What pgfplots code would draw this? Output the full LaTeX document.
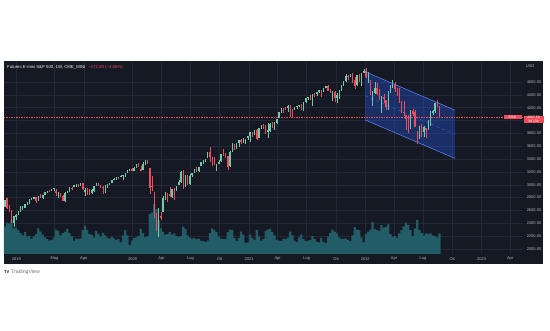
\documentclass[border=0pt]{standalone}
\usepackage{pgfplots}
\pgfplotsset{compat=1.18}
\usepackage{pgfplotstable}
\usepackage{fontspec}
\setmainfont{Liberation Sans}
\definecolor{bg}{RGB}{21,25,36}
\definecolor{gridc}{RGB}{36,40,54}
\definecolor{upc}{RGB}{112,202,168}
\definecolor{dnc}{RGB}{240,76,90}
\definecolor{volc}{RGB}{34,92,102}
\definecolor{txt}{RGB}{178,181,190}
\definecolor{chan}{RGB}{41,98,255}
\pgfplotstableread{
w o h l c v
-5 2650 2760 2647 2760 8.5
-4 2790 2800 2621 2633 9.8
-3 2630 2685 2583 2600 9.5
-2 2590 2601 2409 2417 10.5
-1 2400 2520 2346 2507 8.0
0 2498 2538 2444 2532 8.2
1 2535 2597 2524 2596 7.5
2 2585 2675 2580 2671 6.5
3 2657 2672 2612 2665 5.8
4 2644 2708 2631 2707 6.8
5 2706 2738 2684 2708 5.5
6 2712 2775 2700 2775 5.6
7 2769 2795 2767 2793 4.8
8 2796 2814 2775 2804 5.5
9 2803 2804 2722 2743 6.2
10 2747 2830 2740 2822 8.0
11 2823 2860 2800 2800 7.0
12 2796 2836 2786 2834 6.0
13 2848 2895 2848 2893 5.2
14 2889 2910 2873 2907 4.6
15 2909 2917 2891 2905 4.2
16 2898 2940 2898 2940 4.4
17 2940 2954 2900 2946 5.2
18 2908 2939 2825 2881 7.6
19 2841 2892 2801 2860 7.2
20 2841 2876 2805 2826 5.8
21 2830 2841 2750 2752 6.5
22 2752 2884 2728 2873 7.0
23 2885 2910 2880 2887 7.8
24 2889 2964 2887 2950 6.5
25 2951 2964 2913 2942 5.6
26 2971 2996 2965 2990 4.2
27 2980 3014 2963 3014 4.8
28 3012 3017 2966 2977 4.6
29 2986 3028 2979 3026 4.9
30 3024 3029 2914 2932 7.4
31 2898 2944 2822 2919 8.8
32 2907 2943 2840 2889 7.4
33 2913 2940 2834 2847 6.2
34 2866 2940 2853 2926 6.0
35 2910 2985 2891 2979 5.2
36 2988 3021 2985 3007 7.2
37 3002 3022 2990 2992 6.3
38 2986 3000 2945 2961 5.4
39 2967 2983 2855 2952 6.6
40 2944 2993 2874 2970 5.8
41 2965 3008 2952 2986 5.0
42 2996 3027 2992 3023 4.8
43 3035 3067 3023 3067 5.3
44 3078 3098 3070 3093 4.9
45 3089 3121 3078 3120 4.4
46 3118 3127 3091 3110 4.6
47 3117 3154 3114 3141 3.6
48 3144 3146 3070 3146 5.8
49 3141 3183 3123 3169 7.4
50 3183 3226 3180 3221 5.8
51 3226 3247 3222 3240 2.8
52 3240 3260 3212 3235 4.2
53 3218 3282 3211 3265 5.0
54 3271 3329 3264 3329 5.2
55 3325 3338 3280 3295 5.6
56 3248 3285 3214 3225 7.8
57 3235 3347 3235 3327 6.5
58 3318 3385 3315 3380 5.2
59 3369 3393 3328 3337 5.5
60 3257 3260 2855 2954 12.5
61 2974 3136 2901 2972 13.0
62 2863 2882 2479 2711 15.5
63 2508 2562 2280 2305 14.0
64 2290 2637 2192 2541 10.5
65 2514 2576 2447 2489 8.0
66 2578 2818 2578 2790 7.0
67 2782 2880 2761 2875 6.0
68 2845 2868 2727 2837 6.2
69 2854 2964 2812 2831 6.8
70 2815 2934 2797 2930 6.0
71 2938 2945 2766 2864 6.4
72 2913 2980 2909 2955 5.6
73 3004 3069 2999 3044 5.4
74 3038 3211 3032 3194 5.6
75 3199 3233 2936 3041 8.5
76 2994 3155 2965 3098 7.8
77 3094 3155 3004 3009 5.8
78 3018 3165 3001 3130 5.2
79 3155 3186 3128 3185 4.8
80 3205 3238 3182 3225 5.0
81 3224 3280 3200 3216 4.6
82 3219 3272 3200 3271 4.8
83 3289 3352 3285 3351 4.2
84 3356 3387 3323 3373 4.0
85 3380 3399 3356 3397 3.8
86 3419 3509 3410 3508 4.2
87 3507 3588 3349 3426 6.5
88 3371 3425 3293 3340 8.0
89 3363 3428 3313 3319 7.5
90 3285 3320 3209 3298 6.8
91 3334 3393 3323 3348 5.5
92 3367 3482 3354 3477 4.8
93 3500 3550 3441 3484 4.6
94 3493 3502 3419 3465 4.7
95 3441 3441 3233 3270 6.8
96 3296 3529 3280 3509 7.6
97 3583 3646 3511 3585 7.4
98 3600 3628 3543 3558 5.0
99 3566 3644 3560 3638 4.0
100 3654 3699 3594 3699 5.0
101 3694 3712 3633 3663 7.0
102 3675 3726 3648 3709 6.0
103 3694 3712 3636 3703 3.5
104 3723 3760 3697 3756 3.6
105 3764 3826 3662 3824 6.0
106 3803 3824 3749 3768 5.0
107 3781 3860 3781 3841 4.4
108 3851 3870 3694 3714 7.5
109 3731 3887 3725 3886 5.4
110 3886 3935 3874 3934 4.2
111 3939 3950 3865 3906 4.6
112 3885 3928 3788 3811 7.2
113 3842 3960 3723 3842 7.6
114 3844 3960 3819 3943 7.8
115 3914 3983 3891 3913 6.8
116 3916 3978 3853 3974 5.8
117 3969 4020 3944 4019 4.4
118 4034 4130 4033 4128 4.2
119 4128 4191 4124 4185 4.0
120 4185 4195 4118 4180 4.8
121 4186 4218 4168 4181 4.6
122 4192 4238 4128 4232 5.2
123 4229 4237 4056 4173 7.0
124 4170 4187 4061 4156 5.8
125 4170 4213 4157 4204 4.2
126 4217 4234 4182 4230 3.8
127 4229 4249 4207 4247 5.2
128 4248 4262 4161 4166 6.0
129 4173 4286 4152 4281 4.6
130 4285 4356 4276 4352 4.0
131 4356 4372 4321 4370 4.2
132 4372 4393 4317 4327 4.4
133 4296 4415 4233 4411 5.6
134 4409 4430 4368 4395 4.6
135 4407 4440 4385 4437 3.8
136 4437 4470 4428 4468 3.6
137 4461 4480 4367 4442 5.0
138 4450 4513 4440 4509 3.8
139 4514 4545 4508 4535 3.4
140 4535 4549 4456 4458 5.4
141 4474 4491 4424 4432 6.6
142 4402 4465 4305 4455 7.6
143 4450 4465 4288 4357 7.0
144 4348 4429 4278 4391 6.4
145 4385 4475 4330 4471 5.2
146 4464 4559 4460 4544 4.6
147 4553 4608 4537 4605 4.8
148 4610 4718 4595 4697 4.9
149 4701 4714 4630 4682 4.4
150 4689 4717 4672 4698 4.0
151 4712 4743 4585 4594 5.8
152 4628 4672 4495 4538 8.4
153 4548 4713 4532 4712 7.6
154 4710 4731 4600 4620 7.4
155 4588 4740 4531 4725 5.2
156 4733 4808 4733 4766 3.6
157 4778 4818 4662 4677 6.2
158 4655 4749 4582 4662 7.0
159 4632 4632 4395 4398 7.6
160 4356 4453 4222 4432 10.0
161 4431 4596 4414 4500 7.8
162 4505 4590 4401 4419 7.4
163 4412 4490 4327 4349 7.2
164 4332 4385 4115 4385 9.0
165 4363 4416 4279 4329 8.2
166 4327 4327 4157 4204 8.4
167 4202 4466 4161 4463 9.2
168 4462 4546 4424 4543 6.2
169 4541 4637 4507 4546 5.4
170 4547 4593 4450 4488 5.6
171 4474 4500 4381 4392 5.0
172 4386 4513 4267 4272 6.4
173 4255 4308 4124 4132 7.4
174 4130 4308 4063 4123 8.6
175 4081 4081 3859 4024 9.8
176 4013 4090 3811 3901 9.0
177 3920 4158 3876 4158 7.4
178 4152 4177 4074 4109 5.6
179 4134 4168 3901 3901 8.0
180 3839 3839 3637 3675 10.6
181 3715 3913 3705 3912 7.4
182 3921 3946 3738 3825 6.6
183 3816 3918 3742 3899 5.8
184 3880 3880 3722 3863 6.4
185 3883 4012 3852 3962 6.2
186 3965 4141 3911 4130 6.4
187 4112 4168 4079 4145 5.8
188 4155 4280 4116 4280 5.6
189 4270 4325 4218 4228 5.2
190 4220 4230 4052 4057 6.4
}\data
\begin{document}
\begin{tikzpicture}[x=1pt,y=1pt]
\fill[white] (0,0) rectangle (550,330);
\fill[bg] (4,66) rectangle (543,269);
\begin{axis}[at={(4pt,76pt)}, anchor=south west, scale only axis,
  width=519pt, height=193pt,
  xmin=-5.38, xmax=227.47, ymin=1922, ymax=4927,
  axis line style={draw=none}, major tick length=0pt,
  xmajorgrids, ymajorgrids,
  major grid style={gridc, line width=0.5pt},
  xtick={0.14,17.3,30.4,52.3,65.3,78.3,91.4,104.6,117.4,130.4,143.6,156.7,169.6,182.6,195.7,208.9,221.7},
  xticklabels={2019,Mag,Ago,2020,Apr,Lug,Ott,2021,Apr,Lug,Ott,2022,Apr,Lug,Ott,2023,Apr},
  ytick={2000,2200,2400,2600,2800,3000,3200,3400,3600,3800,4000,4200,4400,4600},
  yticklabels={2000.00,2200.00,2400.00,2600.00,2800.00,3000.00,3200.00,3400.00,3600.00,3800.00,{},4200.00,4400.00,4600.00},
  yticklabel pos=right,
  xticklabel style={font=\fontsize{4}{5}\selectfont, text=txt, anchor=center, yshift=-5pt, inner sep=0pt},
  yticklabel style={font=\fontsize{4}{5}\selectfont, text=txt, anchor=center, xshift=11pt, inner sep=0pt},
]
% volume
\addplot[ybar, bar width=2.25pt, fill=volc, draw=none, forget plot]
  table[x=w, y expr={1922+50*\thisrow{v}}]{\data};
% channel fill
\addplot[fill=chan, fill opacity=0.3, draw=none, forget plot]
  coordinates {(156.6,4760) (197,4160) (197,3410) (156.6,4010)} -- cycle;
\addplot[chan, dashed, line width=0.4pt, forget plot] coordinates {(156.6,4385) (197,3785)};
% current price line
\addplot[dnc, dash pattern=on 1.3pt off 1.2pt, line width=0.6pt, forget plot] coordinates {(-5.38,4057) (227.47,4057)};
% up wicks and bodies
\addplot[draw=none, mark=none, restrict y to domain=0:10000, forget plot,
  error bars/.cd, y dir=both, y explicit, error mark=none,
  error bar style={draw=upc, solid, line width=0.4pt}]
  table[x=w, y expr={(\thisrow{c}>=\thisrow{o}) ? ((\thisrow{h}+\thisrow{l})/2) : (-5000)},
        y error expr={(\thisrow{h}-\thisrow{l})/2}]{\data};
\addplot[draw=none, mark=none, restrict y to domain=0:10000, forget plot,
  error bars/.cd, y dir=both, y explicit, error mark=none,
  error bar style={draw=upc, solid, line width=1.25pt}]
  table[x=w, y expr={(\thisrow{c}>=\thisrow{o}) ? ((\thisrow{o}+\thisrow{c})/2) : (-5000)},
        y error expr={max(abs(\thisrow{c}-\thisrow{o})/2,5)}]{\data};
% down wicks and bodies
\addplot[draw=none, mark=none, restrict y to domain=0:10000, forget plot,
  error bars/.cd, y dir=both, y explicit, error mark=none,
  error bar style={draw=dnc, solid, line width=0.4pt}]
  table[x=w, y expr={(\thisrow{c}<\thisrow{o}) ? ((\thisrow{h}+\thisrow{l})/2) : (-5000)},
        y error expr={(\thisrow{h}-\thisrow{l})/2}]{\data};
\addplot[draw=none, mark=none, restrict y to domain=0:10000, forget plot,
  error bars/.cd, y dir=both, y explicit, error mark=none,
  error bar style={draw=dnc, solid, line width=1.25pt}]
  table[x=w, y expr={(\thisrow{c}<\thisrow{o}) ? ((\thisrow{o}+\thisrow{c})/2) : (-5000)},
        y error expr={max(abs(\thisrow{c}-\thisrow{o})/2,5)}]{\data};
% channel borders
\addplot[chan!75!white, line width=0.5pt, forget plot] coordinates {(156.6,4760) (197,4160)};
\addplot[chan!75!white, line width=0.5pt, forget plot] coordinates {(156.6,4010) (197,3410)};
\end{axis}
% header
\node[anchor=west, inner sep=0pt, font=\fontsize{4.3}{5}\selectfont, text=white!88!gray] at (7,263)
  {Futures E-mini S\&P 500, 1W, CME\_MINI\hspace{3pt}\textcolor{dnc}{−172.00 (−4.06\%)}};
\node[anchor=center, inner sep=0pt, font=\fontsize{4}{5}\selectfont, text=txt] at (530,264) {USD};
% price labels
\node[fill=dnc, text=white, inner sep=0.6pt, minimum width=18pt, font=\fontsize{3.5}{4}\selectfont] at (512.5,213) {ES1!};
\node[fill=dnc, text=white, inner sep=0.6pt, minimum width=20pt, align=center,
  font=\fontsize{3.5}{4}\selectfont] at (533.5,210.5) {4057.50\\3d 13h};
% logo
\node[anchor=west, inner sep=0pt, font=\fontsize{4}{5}\selectfont\bfseries, text=black] at (4,58) {TV};
\node[anchor=west, inner sep=0pt, font=\fontsize{5.2}{6}\selectfont, text={rgb,255:red,110;green,110;blue,110}] at (11,58) {TradingView};
\end{tikzpicture}
\end{document}
